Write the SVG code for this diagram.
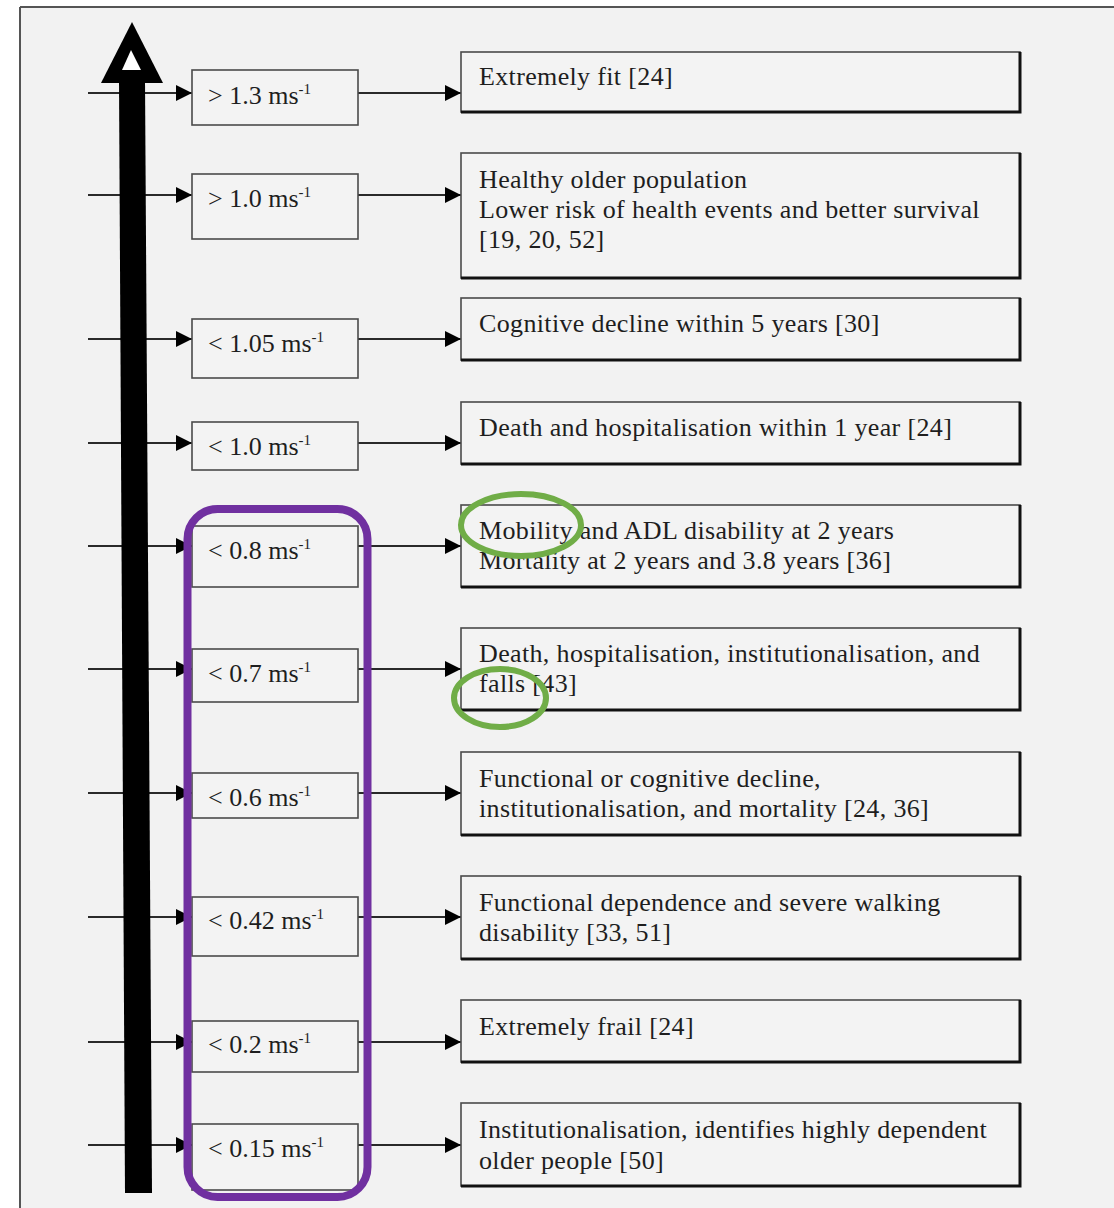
<svg xmlns="http://www.w3.org/2000/svg" width="1114" height="1208" viewBox="0 0 1114 1208">
<defs>
<style>
.t{font-family:"Liberation Serif","Times New Roman",serif;font-size:26px;fill:#1e1e1e}
.w{letter-spacing:0.35px}
.sup{font-size:15px}
.box{fill:#f3f3f3;stroke:#4a4a4a;stroke-width:1.6}
.edge{stroke:#111;stroke-width:3;fill:none}
.conn{stroke:#2a2a2a;stroke-width:2;fill:none}
.purple{fill:none;stroke:#7030a0;stroke-width:8}
.green{fill:none;stroke:#70ad47;stroke-width:6}
</style>
<marker id="ah" viewBox="0 0 10 10" refX="10" refY="5" markerWidth="19" markerHeight="16" markerUnits="userSpaceOnUse" orient="auto">
<path d="M0,0 L10,5 L0,10 z" fill="#000"/>
</marker>
</defs>
<rect x="0" y="0" width="1114" height="1208" fill="#ffffff"/>
<rect x="20" y="7" width="1094" height="1201" fill="#f2f2f2"/>
<line x1="20" y1="7" x2="1114" y2="7" stroke="#555" stroke-width="2"/>
<line x1="20" y1="7" x2="20" y2="1208" stroke="#555" stroke-width="2"/>

<g id="connectors">
<line class="conn" x1="88" y1="93" x2="192" y2="93" marker-end="url(#ah)"/>
<line class="conn" x1="358" y1="93" x2="461" y2="93" marker-end="url(#ah)"/>
<line class="conn" x1="88" y1="195" x2="192" y2="195" marker-end="url(#ah)"/>
<line class="conn" x1="358" y1="195" x2="461" y2="195" marker-end="url(#ah)"/>
<line class="conn" x1="88" y1="339" x2="192" y2="339" marker-end="url(#ah)"/>
<line class="conn" x1="358" y1="339" x2="461" y2="339" marker-end="url(#ah)"/>
<line class="conn" x1="88" y1="443" x2="192" y2="443" marker-end="url(#ah)"/>
<line class="conn" x1="358" y1="443" x2="461" y2="443" marker-end="url(#ah)"/>
<line class="conn" x1="88" y1="546" x2="192" y2="546" marker-end="url(#ah)"/>
<line class="conn" x1="358" y1="546" x2="461" y2="546" marker-end="url(#ah)"/>
<line class="conn" x1="88" y1="669" x2="192" y2="669" marker-end="url(#ah)"/>
<line class="conn" x1="358" y1="669" x2="461" y2="669" marker-end="url(#ah)"/>
<line class="conn" x1="88" y1="793" x2="192" y2="793" marker-end="url(#ah)"/>
<line class="conn" x1="358" y1="793" x2="461" y2="793" marker-end="url(#ah)"/>
<line class="conn" x1="88" y1="917" x2="192" y2="917" marker-end="url(#ah)"/>
<line class="conn" x1="358" y1="917" x2="461" y2="917" marker-end="url(#ah)"/>
<line class="conn" x1="88" y1="1042" x2="192" y2="1042" marker-end="url(#ah)"/>
<line class="conn" x1="358" y1="1042" x2="461" y2="1042" marker-end="url(#ah)"/>
<line class="conn" x1="88" y1="1145" x2="192" y2="1145" marker-end="url(#ah)"/>
<line class="conn" x1="358" y1="1145" x2="461" y2="1145" marker-end="url(#ah)"/>
</g>

<g id="axis">
<polygon points="119,80 145,80 152,1193 125,1193" fill="#000"/>
<polygon points="132,22 101,83 163,83" fill="#000"/>
<polygon points="131,50 122,70 141,70" fill="#ffffff"/>
</g>

<g id="s1"><rect class="box" x="192" y="70" width="166" height="55"/><text class="t" x="208" y="104">&gt; 1.3 ms<tspan class="sup" dy="-10">-1</tspan></text></g>
<g id="s2"><rect class="box" x="192" y="174" width="166" height="65"/><text class="t" x="208" y="207">&gt; 1.0 ms<tspan class="sup" dy="-10">-1</tspan></text></g>
<g id="s3"><rect class="box" x="192" y="319" width="166" height="59"/><text class="t" x="208" y="352">&lt; 1.05 ms<tspan class="sup" dy="-10">-1</tspan></text></g>
<g id="s4"><rect class="box" x="192" y="422" width="166" height="48"/><text class="t" x="208" y="455">&lt; 1.0 ms<tspan class="sup" dy="-10">-1</tspan></text></g>
<g id="s5"><rect class="box" x="192" y="526" width="166" height="61"/><text class="t" x="208" y="559">&lt; 0.8 ms<tspan class="sup" dy="-10">-1</tspan></text></g>
<g id="s6"><rect class="box" x="192" y="649" width="166" height="53"/><text class="t" x="208" y="682">&lt; 0.7 ms<tspan class="sup" dy="-10">-1</tspan></text></g>
<g id="s7"><rect class="box" x="192" y="773" width="166" height="45"/><text class="t" x="208" y="806">&lt; 0.6 ms<tspan class="sup" dy="-10">-1</tspan></text></g>
<g id="s8"><rect class="box" x="192" y="897" width="166" height="59"/><text class="t" x="208" y="929">&lt; 0.42 ms<tspan class="sup" dy="-10">-1</tspan></text></g>
<g id="s9"><rect class="box" x="192" y="1021" width="166" height="51"/><text class="t" x="208" y="1053">&lt; 0.2 ms<tspan class="sup" dy="-10">-1</tspan></text></g>
<g id="s10"><rect class="box" x="192" y="1124" width="166" height="66"/><text class="t" x="208" y="1157">&lt; 0.15 ms<tspan class="sup" dy="-10">-1</tspan></text></g>

<g id="b1"><rect class="box" x="461" y="52" width="559" height="60"/><path class="edge" d="M1020,52 V112 H461"/><text class="t w" x="479" y="85">Extremely fit [24]</text></g>
<g id="b2"><rect class="box" x="461" y="153" width="559" height="125"/><path class="edge" d="M1020,153 V278 H461"/><text class="t w" x="479" y="188">Healthy older population</text><text class="t w" x="479" y="218">Lower risk of health events and better survival</text><text class="t w" x="479" y="248">[19, 20, 52]</text></g>
<g id="b3"><rect class="box" x="461" y="298" width="559" height="62"/><path class="edge" d="M1020,298 V360 H461"/><text class="t w" x="479" y="332">Cognitive decline within 5 years [30]</text></g>
<g id="b4"><rect class="box" x="461" y="402" width="559" height="62"/><path class="edge" d="M1020,402 V464 H461"/><text class="t w" x="479" y="436">Death and hospitalisation within 1 year [24]</text></g>
<g id="b5"><rect class="box" x="461" y="505" width="559" height="82"/><path class="edge" d="M1020,505 V587 H461"/><text class="t w" x="479" y="539">Mobility and ADL disability at 2 years</text><text class="t w" x="479" y="569">Mortality at 2 years and 3.8 years [36]</text></g>
<g id="b6"><rect class="box" x="461" y="628" width="559" height="82"/><path class="edge" d="M1020,628 V710 H461"/><text class="t w" x="479" y="662">Death, hospitalisation, institutionalisation, and</text><text class="t w" x="479" y="692">falls [43]</text></g>
<g id="b7"><rect class="box" x="461" y="752" width="559" height="83"/><path class="edge" d="M1020,752 V835 H461"/><text class="t w" x="479" y="787">Functional or cognitive decline,</text><text class="t w" x="479" y="817">institutionalisation, and mortality [24, 36]</text></g>
<g id="b8"><rect class="box" x="461" y="876" width="559" height="83"/><path class="edge" d="M1020,876 V959 H461"/><text class="t w" x="479" y="911">Functional dependence and severe walking</text><text class="t w" x="479" y="941">disability [33, 51]</text></g>
<g id="b9"><rect class="box" x="461" y="1000" width="559" height="62"/><path class="edge" d="M1020,1000 V1062 H461"/><text class="t w" x="479" y="1035">Extremely frail [24]</text></g>
<g id="b10"><rect class="box" x="461" y="1103" width="559" height="83"/><path class="edge" d="M1020,1103 V1186 H461"/><text class="t w" x="479" y="1138">Institutionalisation, identifies highly dependent</text><text class="t w" x="479" y="1169">older people [50]</text></g>

<g id="highlights">
<rect class="purple" x="187.5" y="509" width="180" height="688" rx="30" ry="30"/>
<ellipse class="green" cx="521" cy="525" rx="60" ry="31"/>
<ellipse class="green" cx="500" cy="698" rx="46" ry="29"/>
</g>
</svg>
